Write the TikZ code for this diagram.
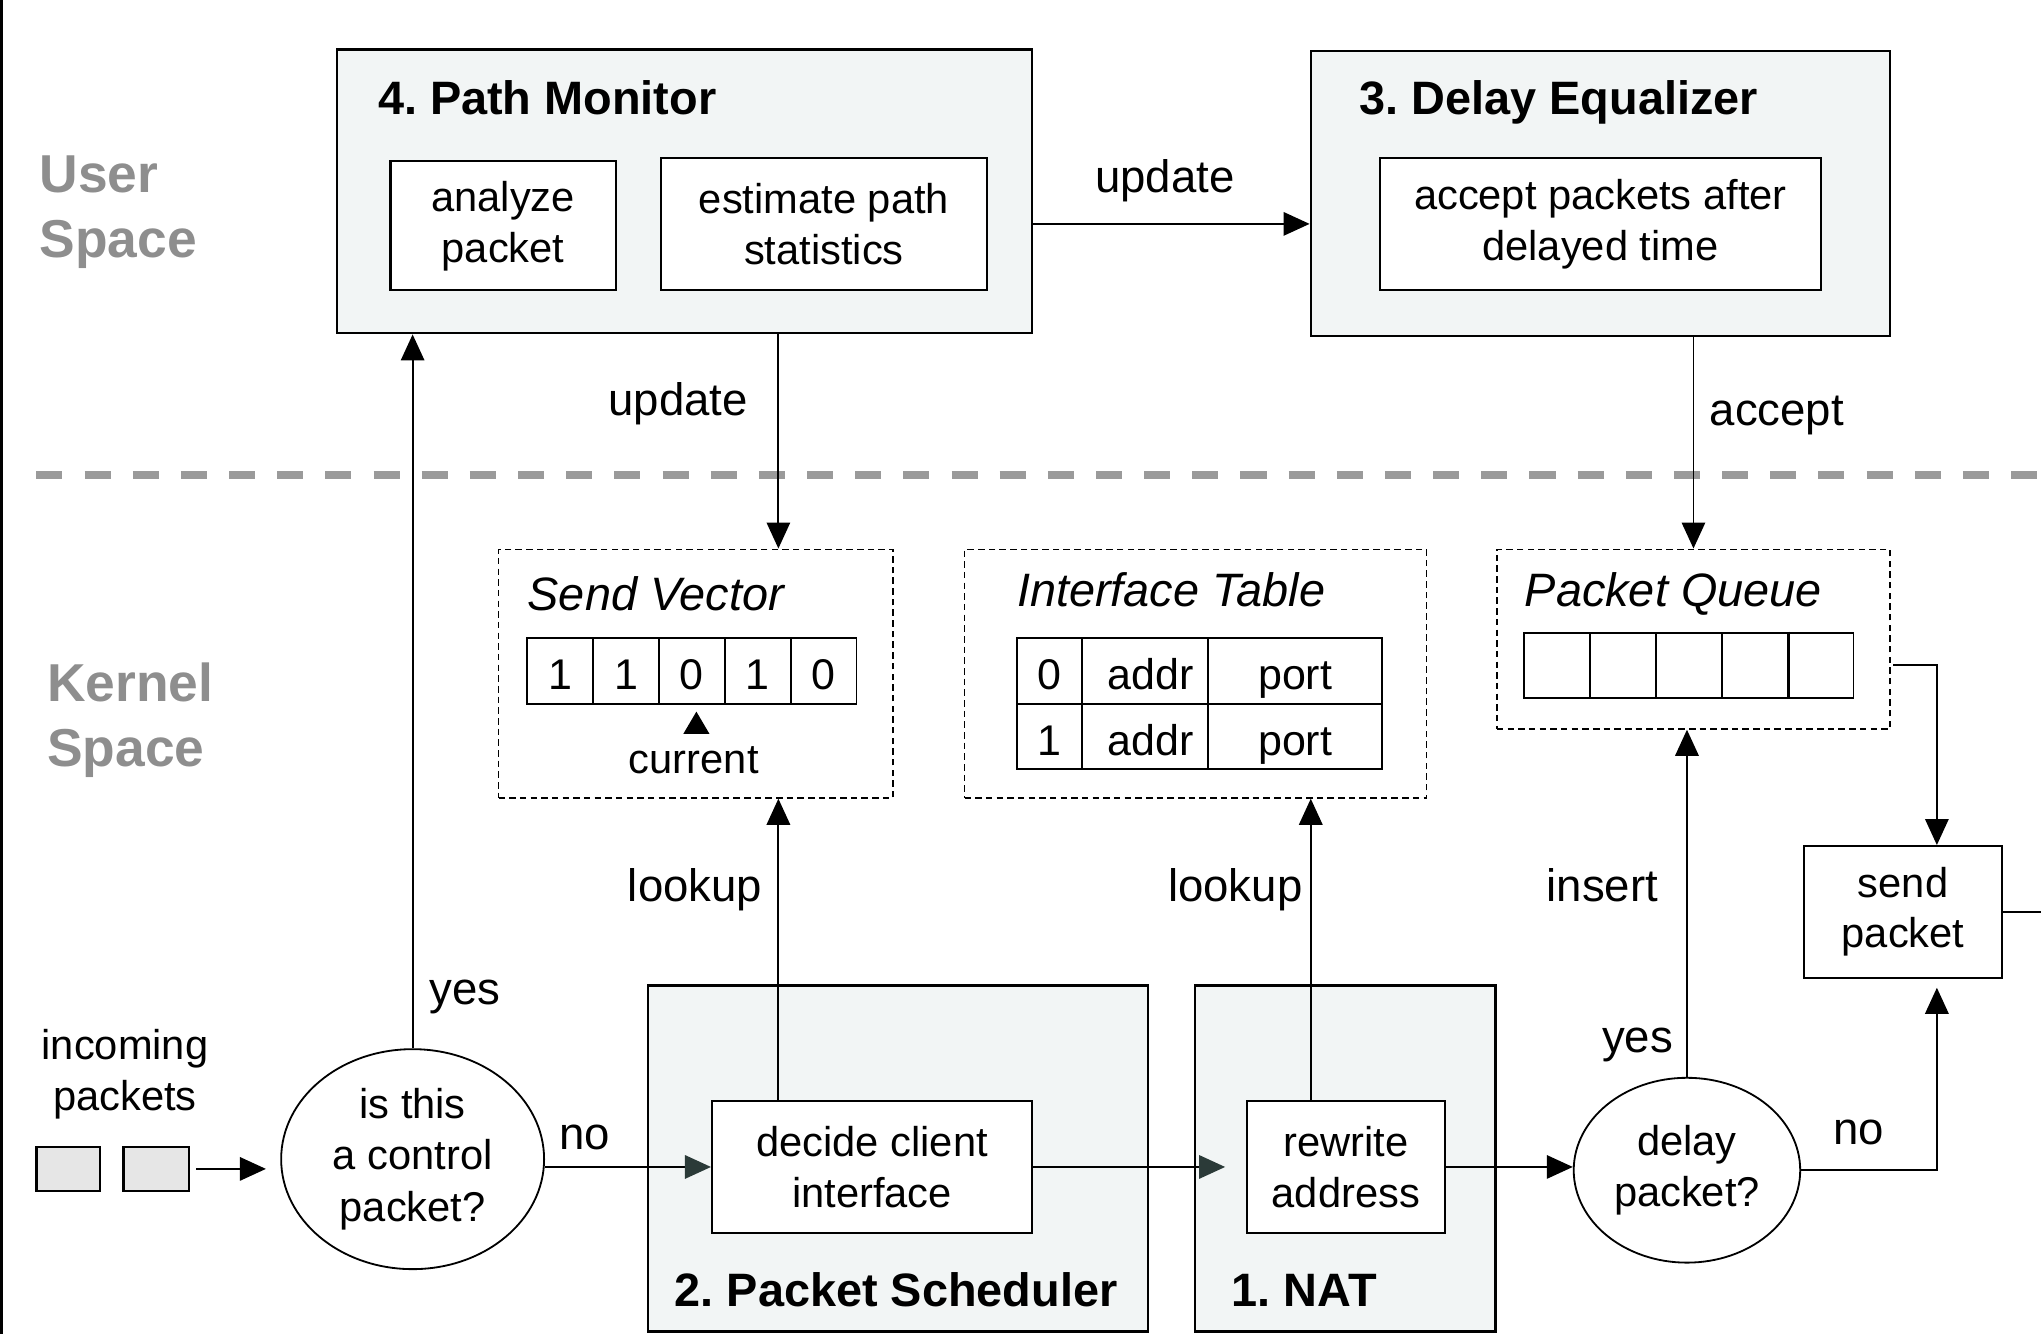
\documentclass[tikz,border=0pt]{standalone}
\usepackage{fontspec}
\setmainfont{Liberation Sans}
\usetikzlibrary{arrows.meta,shapes.geometric}
\definecolor{boxfill}{HTML}{F2F5F5}
\definecolor{spacegray}{HTML}{8E8E8E}
\definecolor{sepgray}{HTML}{9A9A9A}
\definecolor{pktfill}{HTML}{E6E6E6}
\definecolor{headgray}{HTML}{2B3A38}
\begin{document}
\frenchspacing
\begin{tikzpicture}[x=0.5pt,y=-0.5pt,
        blk/.style={draw,fill=boxfill,line width=0.9pt,inner sep=0},
        op/.style={draw,fill=white,line width=0.8pt,inner sep=0,align=center,font=\fontsize{16}{19.5}\selectfont},
        decision/.style={draw,ellipse,line width=0.7pt,inner sep=0,align=center,font=\fontsize{16}{19.75}\selectfont},
        store/.style={draw,dash pattern=on 2.5pt off 1.6pt,line width=0.6pt,inner sep=0},
        cell/.style={draw,line width=0.7pt,inner sep=0,minimum height=25.5pt,text height=14.5pt,text depth=0pt,font=\fontsize{16.5}{20}\selectfont},
        pkt/.style={draw,fill=pktfill,line width=0.9pt,inner sep=0,minimum height=17pt},
        ttl/.style={anchor=base west,inner sep=0,font=\bfseries\fontsize{18}{22}\selectfont},
        stitle/.style={anchor=base west,inner sep=0,font=\itshape\fontsize{18}{22}\selectfont},
        space/.style={anchor=west,inner sep=0,align=left,text=spacegray,font=\bfseries\fontsize{20.5}{25}\selectfont},
        lbl/.style={inner sep=0,text height=15.6pt,text depth=3.7pt,font=\fontsize{17.5}{19.5}\selectfont},
        note/.style={inner sep=0,align=center,font=\fontsize{16}{19.5}\selectfont},
        flow/.style={draw,line width=0.7pt,-{Triangle[length=10pt,width=9pt]}},
        darkflow/.style={draw,line width=0.7pt,-{Triangle[length=10pt,width=9pt,color=headgray]}}]
        \useasboundingbox (0,0) rectangle (1568,1025);
        \draw[line width=1.2pt] (1,0) -- (1,1025);

        \node[space] (us) at (30,163) {User\\Space};
        \node[space] (ks) at (36,553) {Kernel\\Space};
        \draw[sepgray,line width=2.8pt,dash pattern=on 10pt off 8.5pt] (28,365) -- (1568,365);

        \node[blk,minimum width=267pt,minimum height=109pt] (pm) at (526,147) {};
        \node[ttl] (pmt) at (290,88) {4. Path Monitor};
        \node[op,minimum width=86.5pt,minimum height=49.5pt] (an) at (386.5,173.5) {analyze\\packet};
        \node[op,minimum width=125pt,minimum height=50.5pt] (est) at (633,172) {estimate path\\statistics};

        \node[blk,minimum width=222.5pt,minimum height=109.5pt] (de) at (1229.5,148.5) {};
        \node[ttl] (det) at (1044,88) {3. Delay Equalizer};
        \node[op,minimum width=169.5pt,minimum height=50.5pt] (acc) at (1229.5,172) {accept packets after\\delayed time};

        \node[store,minimum width=151.5pt,minimum height=95.5pt] (sv) at (534.5,517.5) {};
        \node[stitle] (svt) at (405,469) {Send Vector};
        \node[cell,minimum width=25.3pt] (v1) at (430.3,515.5) {1};
        \node[cell,minimum width=25.3pt] (v2) at (480.9,515.5) {1};
        \node[cell,minimum width=25.3pt] (v3) at (531.5,515.5) {0};
        \node[cell,minimum width=25.3pt] (v4) at (582.1,515.5) {1};
        \node[cell,minimum width=25.3pt] (v5) at (632.7,515.5) {0};
        \fill ([xshift=1.75pt,yshift=-2.5pt]v3.south) -- ++(-10,17) -- ++(20,0) -- cycle;
        \node[note] (cur) at (533,584) {current};

        \node[store,minimum width=177.5pt,minimum height=95.5pt] (it) at (918.5,517.5) {};
        \node[stitle] (itt) at (781,466) {Interface Table};
        \node[cell,minimum width=25pt] (t00) at (806,515.5) {0};
        \node[cell,minimum width=48.5pt] (t01) at (879.5,515.5) {~addr};
        \node[cell,minimum width=67pt] (t02) at (995,515.5) {port};
        \node[cell,minimum width=25pt,minimum height=25pt] (t10) at (806,566) {1};
        \node[cell,minimum width=48.5pt,minimum height=25pt] (t11) at (879.5,566) {~addr};
        \node[cell,minimum width=67pt,minimum height=25pt] (t12) at (995,566) {port};

        \node[store,minimum width=151pt,minimum height=69pt] (pq) at (1301,491) {};
        \node[stitle] (pqt) at (1171,466) {Packet Queue};
        \node[cell,minimum width=25.3pt,minimum height=25pt] (q1) at (1196.3,511) {};
        \node[cell,minimum width=25.3pt,minimum height=25pt] (q2) at (1246.9,511) {};
        \node[cell,minimum width=25.3pt,minimum height=25pt] (q3) at (1297.5,511) {};
        \node[cell,minimum width=25.3pt,minimum height=25pt] (q4) at (1348.1,511) {};
        \node[cell,minimum width=25.3pt,minimum height=25pt] (q5) at (1398.7,511) {};
        \draw[line width=1.1pt] (q4.north east) -- (q4.south east);

        \node[op,minimum width=76pt,minimum height=50.5pt] (send) at (1462,700.5) {send\\packet};
        \coordinate (out) at (1570,703);

        \node[pkt,minimum width=24.5pt] (in1) at (52.5,898) {};
        \node[pkt,minimum width=25pt] (in2) at (120,898) {};
        \node[note] (inc) at (96,825) {incoming\\packets};
        \node[decision,minimum width=101pt,minimum height=84.5pt] (ctrl) at (317,890.5) {is this\\a control\\packet?};

        \node[blk,minimum width=192pt,minimum height=133pt] (ps) at (690,890) {};
        \node[ttl] (pst) at (518,1004) {2. Packet Scheduler};
        \node[op,minimum width=123pt,minimum height=50.5pt] (dec) at (670,896.5) {decide client\\interface};

        \node[blk,minimum width=115.5pt,minimum height=133pt] (nat) at (1033.5,890) {};
        \node[ttl] (natt) at (946,1004) {1. NAT};
        \node[op,minimum width=76pt,minimum height=50.5pt] (rw) at (1034,896.5) {rewrite\\address};

        \node[decision,minimum width=87pt,minimum height=71pt] (delay) at (1296,899) {delay\\packet?};

        \coordinate (dn) at ([xshift=-36pt]dec.north);
        \coordinate (rn) at ([xshift=-13.5pt]rw.north);
        \coordinate (sy) at ([xshift=13pt]send.north);
        \coordinate (sx) at ([xshift=13pt]send.south);

        \path [flow] (est.east -| pm.east) -- (est.east -| de.west);
        \path [flow] (dn |- pm.south) -- (dn |- sv.north);
        \path [flow] (pq.north |- de.south) -- (pq.north);
        \path [flow] (ctrl.north) -- (ctrl.north |- pm.south);
        \path [flow,shorten <=2.5pt,shorten >=5.5pt] (in2.east) -- (in2.east -| ctrl.west);
        \path [darkflow] (dec.west -| ctrl.east) -- (dec.west);
        \path [flow] (dn) -- (dn |- sv.south);
        \path [darkflow,shorten >=8pt] (dec.east) -- (rw.west);
        \path [flow] (rn) -- (rn |- it.south);
        \path [flow] (rw.east) -- (rw.east -| delay.west);
        \path [flow] (delay.north) -- (delay.north |- pq.south);
        \path [flow,shorten >=3.5pt] (delay.east) -| (sx);
        \path [flow,shorten <=1pt] (q5.east -| pq.east) -| (sy);
        \path [draw,line width=0.7pt] (send.east) -- (send.east -| out);

        \node[lbl] (upd1) at (895,136) {update};
        \node[lbl] (upd2) at (521,307) {update};
        \node[lbl] (acl) at (1365,315) {accept};
        \node[lbl] (yes1) at (357,760) {yes};
        \node[lbl] (look1) at (534,681) {lookup};
        \node[lbl] (look2) at (949,681) {lookup};
        \node[lbl] (ins) at (1231,681) {insert};
        \node[lbl] (yes2) at (1258,797) {yes};
        \node[lbl] (no1) at (449,871) {no};
        \node[lbl] (no2) at (1428,867) {no};
    \end{tikzpicture}
\end{document}
